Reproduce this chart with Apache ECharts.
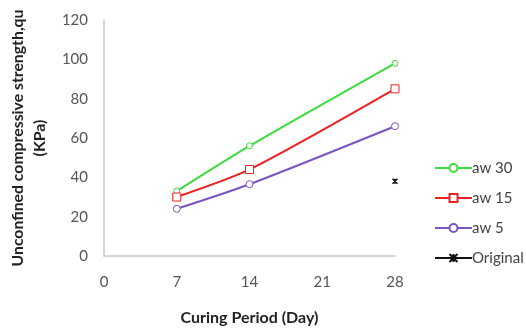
<!DOCTYPE html>
<html>
<head>
<meta charset="utf-8">
<script src="https://cdn.jsdelivr.net/npm/echarts@6/dist/echarts.min.js"></script>
<style>html,body{margin:0;padding:0;background:#fff}#c{width:526px;height:329px}</style>
</head>
<body>
<div id="c"></div>
<script>
// Curing period (days) and unconfined compressive strength (KPa)
const days = [7, 14, 28];
const aw30 = [33, 56, 98];
const aw15 = [30, 44, 85];
const aw5 = [24, 36.5, 66];
const originalDay = [28];
const original = [38];
const xTicks = [0, 7, 14, 21, 28];
const yTicks = [0, 20, 40, 60, 80, 100, 120];

const crossPath = 'path://M0,0L10,10M10,0L0,10M5,0L5,10Z';
const squarePath = 'path://M0,0H10V10H0Z';

// each point carries its own hollow marker style
const points = (xs, ys, color) => xs.map((x, i) => ({
  value: [x, ys[i]],
  itemStyle: { color: '#fff', borderColor: color, borderWidth: 1 }
}));

function lineSeries(name, ys, color, symbol, size) {
  return {
    name, type: 'line', data: points(days, ys, color), smooth: 0.25,
    silent: true, legendHoverLink: false,
    lineStyle: { width: 2, color },
    symbol, symbolSize: size,
    itemStyle: { color: '#fff', borderColor: color, borderWidth: 1 },
    emphasis: { disabled: true }
  };
}

const chart = echarts.init(document.getElementById('c'));
const font = 'Lato, Open Sans, sans-serif';
chart.setOption({
  animation: false,
  hoverLayerThreshold: Infinity,
  textStyle: { fontFamily: font },
  grid: { left: 104, right: 131, top: 20, bottom: 73, outerBoundsMode: 'none', containLabel: false },
  xAxis: {
    type: 'value', min: xTicks[0], max: xTicks[xTicks.length - 1], interval: 7,
    name: 'Curing Period (Day)', nameLocation: 'middle', nameGap: 54,
    nameTextStyle: { fontWeight: 'bold', fontSize: 16, color: '#222' },
    axisLine: { show: true, lineStyle: { color: '#c8c8c8', width: 1.5 } },
    axisTick: { show: false }, splitLine: { show: false },
    axisLabel: { color: '#555', fontSize: 15, margin: 19 }
  },
  yAxis: {
    type: 'value', min: yTicks[0], max: yTicks[yTicks.length - 1], interval: 20,
    name: 'Unconfined compressive strength,qu\n(KPa)', nameLocation: 'middle', nameGap: 53,
    nameTextStyle: { fontWeight: 'bold', fontSize: 15.8, color: '#222', lineHeight: 22 },
    axisLine: { show: true, lineStyle: { color: '#c8c8c8', width: 1.5 } },
    axisTick: { show: false }, splitLine: { show: false },
    axisLabel: { color: '#555', fontSize: 15, margin: 16 }
  },
  legend: {
    orient: 'vertical', left: 429, top: 155, itemGap: 14, itemWidth: 37, itemHeight: 10,
    selectedMode: false,
    textStyle: { fontSize: 15, color: '#444', padding: [0, 0, 0, -5], lineHeight: 16 },
    data: ['aw 30', 'aw 15', 'aw 5', 'Original']
  },
  series: [
    lineSeries('aw 30', aw30, '#3cdc3c', 'circle', 6),
    lineSeries('aw 15', aw15, '#ee2020', squarePath, 8),
    lineSeries('aw 5', aw5, '#7a55c2', 'circle', 7),
    { name: 'Original', type: 'line', data: originalDay.map((x, i) => [x, original[i]]),
      silent: true, legendHoverLink: false,
      lineStyle: { width: 2, color: '#111' }, symbol: crossPath, symbolSize: 5,
      itemStyle: { color: '#111', borderColor: '#111', borderWidth: 1.5 },
      emphasis: { disabled: true } }
  ]
});
</script>
</body>
</html>
